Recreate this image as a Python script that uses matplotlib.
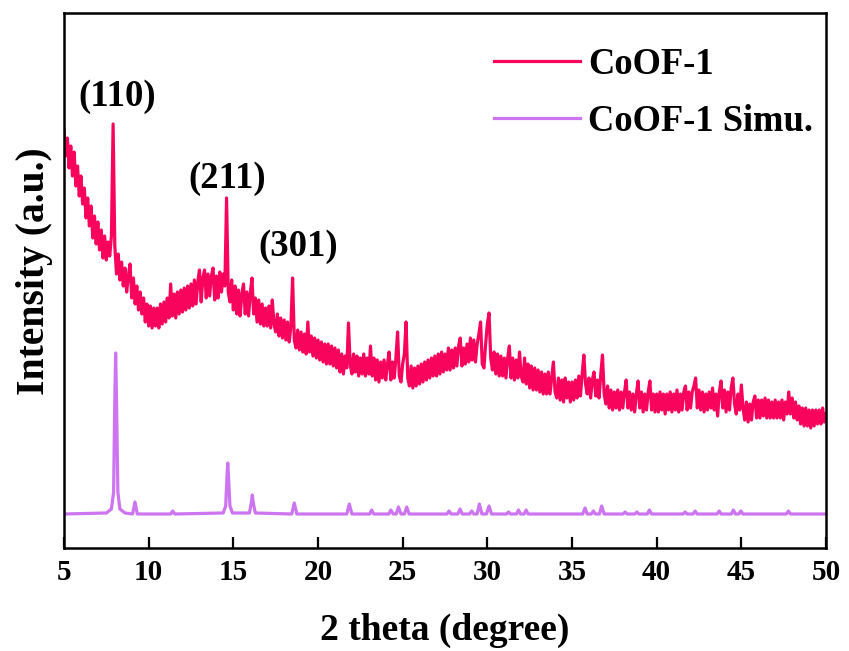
import numpy as np
import matplotlib
matplotlib.use("Agg")
import matplotlib.pyplot as plt

plt.rcParams['font.family'] = ['Liberation Serif', 'DejaVu Serif']
plt.rcParams['font.weight'] = 'bold'

# Measured pattern: 2-theta from 5 to 50 deg in 0.1 deg steps
two_theta_start = 5.0
two_theta_step = 0.1
coof_intensity = [
    # 5.0 - 5.9
    418, 392, 410, 380, 402, 372, 396, 362, 382, 352,
    # 6.0 - 6.9
    372, 344, 360, 330, 350, 322, 342, 310, 332, 304,
    # 7.0 - 7.9
    326, 298, 318, 290, 312, 288, 306, 292, 312, 424,
    # 8.0 - 8.9
    302, 274, 294, 268, 286, 262, 280, 256, 272, 284,
    # 9.0 - 9.9
    250, 270, 244, 262, 238, 256, 234, 250, 226, 244,
    # 10.0 - 10.9
    222, 242, 220, 240, 222, 240, 220, 244, 224, 246,
    # 11.0 - 11.9
    226, 250, 230, 264, 232, 254, 230, 256, 234, 258,
    # 12.0 - 12.9
    236, 260, 238, 262, 240, 264, 242, 268, 244, 266,
    # 13.0 - 13.9
    278, 246, 270, 278, 250, 274, 252, 272, 280, 248,
    # 14.0 - 14.9
    272, 250, 276, 256, 274, 262, 350, 256, 246, 268,
    # 15.0 - 15.9
    238, 262, 234, 258, 232, 254, 264, 234, 256, 232,
    # 16.0 - 16.9
    254, 270, 234, 250, 226, 248, 224, 244, 222, 240,
    # 17.0 - 17.9
    222, 242, 220, 248, 224, 216, 234, 212, 230, 210,
    # 18.0 - 18.9
    228, 208, 226, 206, 222, 270, 208, 200, 218, 198,
    # 19.0 - 19.9
    216, 196, 214, 194, 226, 196, 212, 192, 210, 190,
    # 20.0 - 20.9
    208, 188, 206, 186, 204, 184, 204, 184, 202, 182,
    # 21.0 - 21.9
    200, 180, 198, 176, 194, 174, 192, 180, 225, 184,
    # 22.0 - 22.9
    174, 194, 176, 192, 172, 190, 174, 194, 172, 190,
    # 23.0 - 23.9
    174, 202, 172, 190, 168, 188, 166, 186, 170, 188,
    # 24.0 - 24.9
    168, 184, 196, 168, 186, 170, 190, 216, 172, 166,
    # 25.0 - 25.9
    184, 194, 226, 170, 162, 182, 160, 180, 162, 182,
    # 26.0 - 26.9
    164, 184, 166, 186, 168, 188, 170, 190, 172, 192,
    # 27.0 - 27.9
    172, 194, 174, 196, 176, 194, 178, 200, 178, 198,
    # 28.0 - 28.9
    180, 200, 182, 202, 210, 182, 200, 184, 204, 186,
    # 29.0 - 29.9
    210, 188, 208, 186, 204, 214, 226, 184, 180, 204,
    # 30.0 - 30.9
    224, 235, 190, 178, 196, 174, 194, 172, 192, 172,
    # 31.0 - 31.9
    190, 170, 190, 202, 170, 190, 168, 188, 170, 196,
    # 32.0 - 32.9
    172, 166, 190, 164, 184, 160, 182, 158, 180, 158,
    # 33.0 - 33.9
    178, 156, 176, 154, 174, 154, 176, 154, 170, 186,
    # 34.0 - 34.9
    156, 150, 170, 148, 168, 146, 170, 150, 166, 146,
    # 35.0 - 35.9
    166, 148, 168, 150, 172, 152, 174, 193, 164, 154,
    # 36.0 - 36.9
    170, 150, 168, 176, 152, 168, 150, 174, 193, 154,
    # 37.0 - 37.9
    144, 162, 140, 158, 138, 156, 140, 158, 138, 156,
    # 38.0 - 38.9
    140, 156, 168, 140, 156, 138, 154, 136, 154, 167,
    # 39.0 - 39.9
    140, 156, 136, 154, 138, 156, 167, 138, 154, 136,
    # 40.0 - 40.9
    154, 136, 156, 138, 154, 134, 154, 138, 156, 136,
    # 41.0 - 41.9
    154, 138, 158, 136, 154, 138, 156, 162, 138, 156,
    # 42.0 - 42.9
    140, 156, 162, 170, 140, 158, 138, 156, 136, 154,
    # 43.0 - 43.9
    138, 156, 140, 160, 138, 154, 132, 156, 167, 140,
    # 44.0 - 44.9
    158, 136, 156, 138, 160, 170, 144, 134, 154, 138,
    # 45.0 - 45.9
    163, 140, 128, 146, 126, 144, 128, 146, 152, 130,
    # 46.0 - 46.9
    148, 130, 148, 132, 150, 130, 148, 130, 146, 130,
    # 47.0 - 47.9
    148, 130, 146, 130, 148, 128, 146, 134, 156, 134,
    # 48.0 - 48.9
    150, 130, 146, 128, 142, 124, 140, 122, 140, 122,
    # 49.0 - 49.9
    138, 120, 138, 122, 138, 124, 138, 124, 140, 126,
    # 50.0
    134,
]
coof_theta = two_theta_start + two_theta_step * np.arange(len(coof_intensity))

# Simulated pattern vertices (2-theta, intensity)
simu_theta = [
    5.0, 7.5, 7.8, 7.93, 8.0, 8.05, 8.1, 8.18, 8.3, 8.6,
    9.05, 9.19, 9.33,
    11.3, 11.42, 11.54,
    14.4, 14.55, 14.62, 14.67, 14.72, 14.8, 14.95,
    15.95, 16.06, 16.12, 16.18, 16.3,
    18.45, 18.6, 18.75,
    21.7, 21.85, 22.0,
    23.05, 23.17, 23.29,
    24.18, 24.3, 24.45, 24.62, 24.75, 24.9, 25.1, 25.24, 25.38,
    27.62, 27.74, 27.86,
    28.26, 28.39, 28.52,
    28.96, 29.08, 29.2, 29.4, 29.53, 29.68, 29.95, 30.1, 30.25,
    31.13, 31.25, 31.37,
    31.72, 31.84, 31.96, 32.17, 32.29, 32.41,
    35.63, 35.77, 35.9, 36.14, 36.26, 36.38, 36.62, 36.75, 36.9,
    38.02, 38.14, 38.26,
    38.71, 38.83, 38.95,
    39.45, 39.57, 39.7,
    41.56, 41.68, 41.8,
    42.15, 42.27, 42.39,
    43.57, 43.69, 43.81,
    44.41, 44.53, 44.65, 44.85, 44.97, 45.09,
    47.66, 47.78, 47.9,
    50.0,
]
simu_intensity = [
    34, 35, 39, 56, 150, 195, 150, 56, 39, 35,
    34, 46, 34,
    34, 37, 34,
    35, 42, 70, 85, 70, 42, 35,
    35, 45, 53, 45, 35,
    34, 45, 34,
    34, 44, 34,
    34, 38, 34,
    34, 38, 34, 34, 41, 34, 34, 41, 34,
    34, 37, 34,
    34, 39, 34,
    34, 37, 34, 34, 44, 34, 34, 42, 34,
    34, 36, 34,
    34, 38, 34, 34, 38, 34,
    34, 40, 34, 34, 37, 34, 34, 42, 34,
    34, 36, 34,
    34, 36, 34,
    34, 38, 34,
    34, 36, 34,
    34, 37, 34,
    34, 37, 34,
    34, 38, 34, 34, 37, 34,
    34, 37, 34,
    34,
]

# Miller-index labels: (text, 2-theta, intensity position)
hkl_labels = ["(110)", "(211)", "(301)"]
hkl_theta = [8.13, 14.63, 18.82]
hkl_y = [451, 370, 301]

series_labels = ["CoOF-1", "CoOF-1 Simu."]
series_colors = ["#F8045C", "#CD74F0"]
x_ticks = [5, 10, 15, 20, 25, 30, 35, 40, 45, 50]

fig = plt.figure(figsize=(8.49, 6.51), dpi=100)
ax = fig.add_axes([64 / 849, 1 - 548 / 651, 762 / 849, 535 / 651])

ax.plot(coof_theta, coof_intensity, color=series_colors[0], lw=2.3,
        label=series_labels[0], solid_joinstyle='round')
ax.plot(simu_theta, simu_intensity, color=series_colors[1], lw=2.3,
        label=series_labels[1], solid_joinstyle='round')

for txt, tx, ty in zip(hkl_labels, hkl_theta, hkl_y):
    ax.text(tx, ty, txt, ha='center', va='center', fontsize=26.5,
            fontweight='bold')

ax.set_xlim(5, 50)
ax.set_ylim(0, 535)
ax.set_xticks(x_ticks)
ax.set_xticklabels([str(t) for t in x_ticks])
ax.set_yticks([])
ax.tick_params(axis='x', direction='in', length=8, width=1.6, pad=8,
               labelsize=21)
for lab in ax.get_xticklabels():
    lab.set_fontweight('bold')
for sp in ax.spines.values():
    sp.set_linewidth(1.8)

ax.set_xlabel("2 theta (degree)", fontsize=27, fontweight='bold', labelpad=19)
ax.set_ylabel("Intensity (a.u.)", fontsize=28.5, fontweight='bold')
ax.yaxis.set_label_coords(-0.0144, 0.518)

leg = ax.legend(loc='upper left', bbox_to_anchor=((494 - 64) / 762, 1 - 34 / 535),
                frameon=False, fontsize=26.3, handlelength=2.35,
                handletextpad=0.22, labelspacing=0.6, borderpad=0,
                borderaxespad=0)
for t in leg.get_texts():
    t.set_fontweight('bold')

fig.savefig("out.png", dpi=100)
